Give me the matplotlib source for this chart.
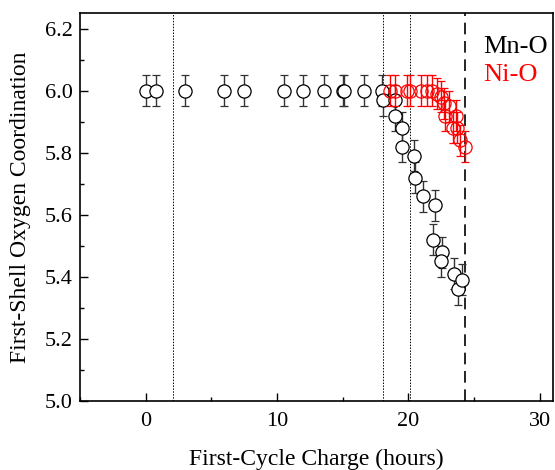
import matplotlib
matplotlib.use("Agg")
import matplotlib.pyplot as plt
from matplotlib.ticker import MultipleLocator

plt.rcParams['font.family'] = ['Liberation Serif', 'DejaVu Serif']

# Mn-O (black)
mn_x = [0.0, 0.8, 3.0, 6.0, 7.5, 10.5, 12.0, 13.6, 15.0, 15.1, 16.6, 18.0, 18.1,
        19.0, 19.0, 19.5, 19.5, 20.4, 20.5, 21.1, 22.0, 21.9, 22.6, 22.5, 23.5, 23.8, 24.1]
mn_y = [6.0, 6.0, 6.0, 6.0, 6.0, 6.0, 6.0, 6.0, 6.0, 6.0, 6.0, 6.0, 5.97,
        5.97, 5.92, 5.88, 5.82, 5.79, 5.72, 5.66, 5.63, 5.52, 5.48, 5.45, 5.41, 5.36, 5.39]
mn_err = 0.05

# Ni-O (red)
ni_x = [18.6, 19.0, 19.9, 20.1, 21.0, 21.4, 21.8, 22.2, 22.5, 22.7, 23.1, 22.8,
        23.6, 23.4, 23.7, 23.9, 24.3]
ni_y = [6.0, 6.0, 6.0, 6.0, 6.0, 6.0, 6.0, 5.99, 5.98, 5.96, 5.95, 5.92,
        5.92, 5.88, 5.88, 5.84, 5.82]
ni_err = 0.05

dotted_lines = [2.1, 18.1, 20.1]
dashed_line = 24.3

fig = plt.figure(figsize=(5.55, 4.7), dpi=100)
ax = fig.add_axes([0.144, 0.147, 0.852, 0.825])

for xv in dotted_lines:
    ax.axvline(xv, color='black', lw=0.7, linestyle=(0, (1.5, 1.5)), zorder=1)
ax.axvline(dashed_line, color='black', lw=1.2, linestyle=(0, (7, 4)), zorder=1)

ax.errorbar(mn_x, mn_y, yerr=mn_err, fmt='o', mfc='white', mec='black', ms=9.5,
            mew=0.9, ecolor='#333333', elinewidth=1.0, capsize=3, capthick=1.0, zorder=3)
ax.errorbar(ni_x, ni_y, yerr=ni_err, fmt='o', mfc='none', mec='red', ms=9.5,
            mew=0.9, ecolor='red', elinewidth=1.0, capsize=3, capthick=1.0, zorder=4)

ax.set_xlim(-5, 31)
ax.set_ylim(5.0, 6.25)
ax.xaxis.set_major_locator(MultipleLocator(10))
ax.xaxis.set_minor_locator(MultipleLocator(5))
ax.yaxis.set_major_locator(MultipleLocator(0.2))
ax.yaxis.set_minor_locator(MultipleLocator(0.1))
ax.yaxis.set_major_formatter(matplotlib.ticker.FormatStrFormatter('%.1f'))
ax.tick_params(which='major', direction='in', length=6, width=1, labelsize=16)
ax.tick_params(which='minor', direction='in', length=3, width=1)
ax.tick_params(axis='x', pad=8)
ax.tick_params(axis='y', pad=5)
for s in ax.spines.values():
    s.set_linewidth(1.2)

ax.set_xlabel('First-Cycle Charge (hours)', fontsize=17, labelpad=13)
ax.set_ylabel('First-Shell Oxygen Coordination', fontsize=17, labelpad=10)

ax.text(0.853, 0.897, 'Mn-O', transform=ax.transAxes, fontsize=19, color='black')
ax.text(0.853, 0.825, 'Ni-O', transform=ax.transAxes, fontsize=19, color='red')

fig.savefig('out.png', dpi=100)
